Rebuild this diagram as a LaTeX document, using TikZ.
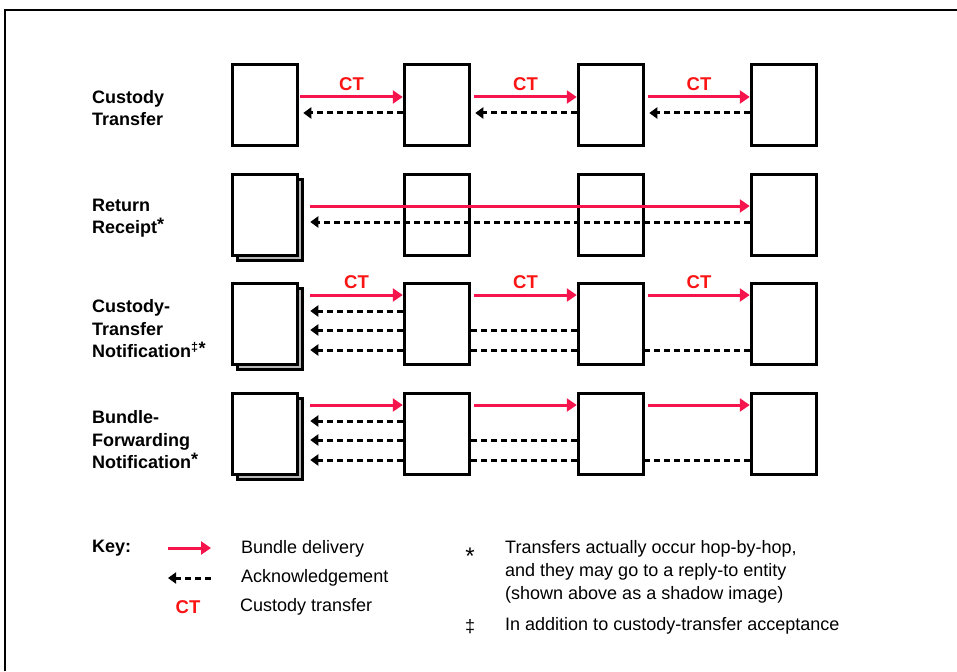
\documentclass[tikz,border=0pt]{standalone}
\usepackage{fontspec}
\setmainfont{Liberation Sans}
\usetikzlibrary{arrows.meta}
\usetikzlibrary{shadows}

\definecolor{bundlered}{RGB}{245,20,75}
\definecolor{ctred}{RGB}{250,20,20}

\begin{document}
\begin{tikzpicture}
[x=1pt,y=-1pt,%
  every node/.style={inner sep=2pt,font=\fontsize{18}{23}\selectfont},%
  hop/.style={shape=rectangle,draw,line width=3pt,fill=white,%
    minimum width=65.5pt,minimum height=81.5pt,inner sep=0pt},%
  src/.style={hop,copy shadow={shadow xshift=5pt,shadow yshift=-5pt,fill=gray!55}},%
  deliver/.style={-{Triangle[length=10pt,width=13pt]},bundlered,line width=3pt},%
  ack/.style={-{Triangle[length=8pt,width=11pt]},black,line width=3pt,%
    dash pattern=on 6pt off 4pt},%
  ct/.style={ctred,font=\fontsize{18.5}{23}\selectfont\bfseries},%
  rowlabel/.style={anchor=west,align=left,font=\fontsize{18}{22.5}\selectfont\bfseries}]
\useasboundingbox (0,0) rectangle (957,671);
\draw[line width=2pt] (5,671) -- (5,10) -- (957,10);

\node[rowlabel] (lct) at (90,108) {Custody\\Transfer};
\node[rowlabel] (lrr) at (90,218) {Return\\Receipt\raisebox{3pt}{*}};
\node[rowlabel] (lcn) at (90,329) {Custody-\\Transfer\\Notification\textsuperscript{‡}\raisebox{3pt}{*}};
\node[rowlabel] (lfn) at (90,440) {Bundle-\\Forwarding\\Notification\raisebox{3pt}{*}};

\node[hop] (ct1) at (265,105) {};
\node[hop] (ct2) at (437,105) {};
\node[hop] (ct3) at (611,105) {};
\node[hop] (ct4) at (784,105) {};
\node[src] (rr1) at (265,215) {};
\node[hop] (rr2) at (437,215) {};
\node[hop] (rr3) at (611,215) {};
\node[hop] (rr4) at (784,215) {};
\node[src] (cn1) at (265,324) {};
\node[hop] (cn2) at (437,324) {};
\node[hop] (cn3) at (611,324) {};
\node[hop] (cn4) at (784,324) {};
\node[src] (fn1) at (265,434) {};
\node[hop] (fn2) at (437,434) {};
\node[hop] (fn3) at (611,434) {};
\node[hop] (fn4) at (784,434) {};

\draw[deliver] ([yshift=8pt,xshift=1pt]ct1.east) -- node[ct,above=3pt] (t1) {CT} ([yshift=8pt]ct2.west);
\draw[deliver] ([yshift=8pt,xshift=3pt]ct2.east) -- node[ct,above=3pt] (t2) {CT} ([yshift=8pt]ct3.west);
\draw[deliver] ([yshift=8pt,xshift=3pt]ct3.east) -- node[ct,above=3pt] (t3) {CT} ([yshift=8pt]ct4.west);
\draw[ack] ([yshift=-8pt]ct2.west) -- ([yshift=-8pt,xshift=4pt]ct1.east);
\draw[ack] ([yshift=-8pt]ct3.west) -- ([yshift=-8pt,xshift=4pt]ct2.east);
\draw[ack] ([yshift=-8pt]ct4.west) -- ([yshift=-8pt,xshift=4pt]ct3.east);

\draw[deliver] ([yshift=9pt,xshift=11pt]rr1.east) -- ([yshift=9pt]rr4.west);
\draw[ack] ([yshift=-7pt]rr4.west) -- ([yshift=-7pt,xshift=11pt]rr1.east);

\draw[deliver] ([yshift=29pt,xshift=11pt]cn1.east) -- node[ct,above=3pt] (t4) {CT} ([yshift=29pt]cn2.west);
\draw[deliver] ([yshift=29pt,xshift=3pt]cn2.east) -- node[ct,above=3pt] (t5) {CT} ([yshift=29pt]cn3.west);
\draw[deliver] ([yshift=29pt,xshift=3pt]cn3.east) -- node[ct,above=3pt] (t6) {CT} ([yshift=29pt]cn4.west);
\draw[ack] ([yshift=13pt]cn2.west) -- ([yshift=13pt,xshift=11pt]cn1.east);
\draw[ack] ([yshift=-6pt]cn2.west) -- ([yshift=-6pt,xshift=11pt]cn1.east);
\draw[ack,-] ([yshift=-6pt]cn3.west) -- ([yshift=-6pt]cn2.east);
\draw[ack] ([yshift=-26pt]cn2.west) -- ([yshift=-26pt,xshift=11pt]cn1.east);
\draw[ack,-] ([yshift=-26pt]cn3.west) -- ([yshift=-26pt]cn2.east);
\draw[ack,-] ([yshift=-26pt]cn4.west) -- ([yshift=-26pt]cn3.east);

\draw[deliver] ([yshift=29pt,xshift=11pt]fn1.east) -- ([yshift=29pt]fn2.west);
\draw[deliver] ([yshift=29pt,xshift=3pt]fn2.east) -- ([yshift=29pt]fn3.west);
\draw[deliver] ([yshift=29pt,xshift=3pt]fn3.east) -- ([yshift=29pt]fn4.west);
\draw[ack] ([yshift=13pt]fn2.west) -- ([yshift=13pt,xshift=11pt]fn1.east);
\draw[ack] ([yshift=-6pt]fn2.west) -- ([yshift=-6pt,xshift=11pt]fn1.east);
\draw[ack,-] ([yshift=-6pt]fn3.west) -- ([yshift=-6pt]fn2.east);
\draw[ack] ([yshift=-26pt]fn2.west) -- ([yshift=-26pt,xshift=11pt]fn1.east);
\draw[ack,-] ([yshift=-26pt]fn3.west) -- ([yshift=-26pt]fn2.east);
\draw[ack,-] ([yshift=-26pt]fn4.west) -- ([yshift=-26pt]fn3.east);

\node[rowlabel] (key) at (90,548) {Key:};
\coordinate (kd1) at (168,548);
\coordinate (kd2) at (211,548);
\coordinate (ka1) at (211,578);
\coordinate (ka2) at (168,578);
\draw[deliver] (kd1) -- (kd2);
\draw[ack] (ka1) -- (ka2);
\node[ct] (kct) at (188,607) {CT};
\node[anchor=west] (kbd) at (239,549) {Bundle delivery};
\node[anchor=west] (kak) at (239,578) {Acknowledgement};
\node[anchor=west] (kcu) at (238,607) {Custody transfer};
\node[font=\fontsize{24}{24}\selectfont] (nstar) at (470,556) {*};
\node[anchor=west,align=left] (tstar) at (503,572) {Transfers actually occur hop-by-hop,\\and they may go to a reply-to entity\\(shown above as a shadow image)};
\node (ndag) at (470,627) {‡};
\node[anchor=west] (tdag) at (503,626) {In addition to custody-transfer acceptance};
\end{tikzpicture}
\end{document}
